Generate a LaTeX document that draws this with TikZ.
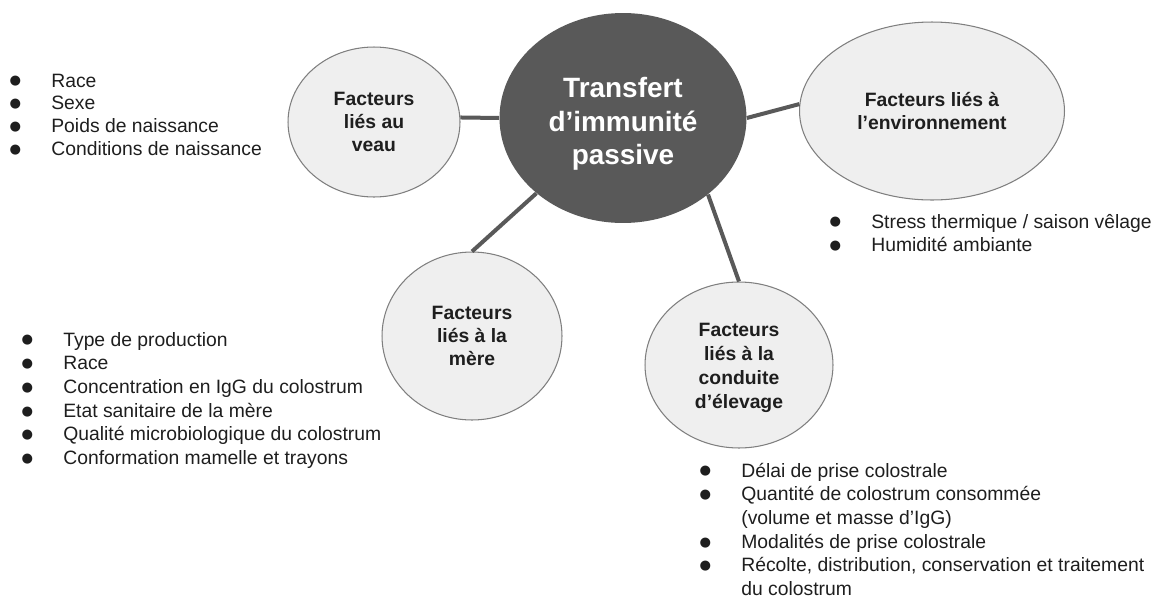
\documentclass[tikz,border=0pt]{standalone}
\usepackage{fontspec}
\setmainfont{Liberation Sans}
\newfontfamily\symbole{DejaVu Sans}
\usetikzlibrary{shapes.geometric}

\definecolor{grisfonce}{HTML}{595959}
\definecolor{grisclair}{HTML}{EFEFEF}
\definecolor{grisbord}{HTML}{7F7F7F}
\definecolor{encre}{HTML}{1E1E1E}

% 列表圆点
\newcommand{\puce}{\makebox[0pt][c]{\raisebox{1.2pt}{\symbole\fontsize{7.5pt}{8pt}\selectfont ●}}\hspace{0.72cm}}
\newcommand{\suite}{\hspace{0.72cm}}

\begin{document}
\begin{tikzpicture}[x=0.02cm, y=-0.02cm,  % 坐标按像素给出
    facteur/.style={ellipse, draw=grisbord, line width=0.6pt, fill=grisclair, inner sep=0pt,
        align=center, text=encre, font={\bfseries\fontsize{11pt}{13.3pt}\selectfont}},
    noyau/.style={ellipse, fill=grisfonce, inner sep=0pt, align=center, text=white,
        font={\bfseries\fontsize{15.9pt}{19.1pt}\selectfont}},
    lien/.style={draw=grisfonce, line width=0.08cm},
    liste/.style={anchor=base west, inner sep=0pt, text=encre,
        font={\fontsize{11pt}{13.5pt}\selectfont}}]

    % 固定画布大小
    \useasboundingbox (0,0) rectangle (1160,599);

    % 中心椭圆
    \node[noyau, minimum width=4.94cm, minimum height=4.2cm] (tip) at (623,118) {\rule{0pt}{18.5pt}Transfert\\d’immunité\\passive};

    % 四个因素椭圆
    \node[facteur, minimum width=3.44cm, minimum height=3cm] (veau) at (374,122) {Facteurs\\liés au\\veau};
    \node[facteur, minimum width=5.3cm, minimum height=3.56cm] (env) at (932,111) {Facteurs liés à\\l’environnement};
    \node[facteur, minimum width=3.6cm, minimum height=3.36cm] (mere) at (472,336) {Facteurs\\liés à la\\mère};
    \node[facteur, minimum width=3.76cm, minimum height=3.32cm, font={\bfseries\fontsize{11pt}{13.6pt}\selectfont}] (elevage) at (739,365) {\rule{0pt}{11pt}Facteurs\\liés à la\\conduite\\d’élevage};

    % 连线
    \draw[lien] (tip.180) -- (veau.3);
    \draw[lien] (tip.221) -- (mere.north);
    \draw[lien] (tip.318) -- (elevage.north);
    \draw[lien] (tip.east) -- (env.177);

    % 各因素的列表
    \node[liste, font={\fontsize{11pt}{13pt}\selectfont}] (lveau) at (15,87) {\begin{tabular}[t]{@{}l@{}}
        \puce Race\\
        \puce Sexe\\
        \puce Poids de naissance\\
        \puce Conditions de naissance
    \end{tabular}};
    \node[liste] (lenv) at (835,228) {\begin{tabular}[t]{@{}l@{}}
        \puce Stress thermique / saison vêlage\\
        \puce Humidité ambiante
    \end{tabular}};
    \node[liste] (lmere) at (27,346) {\begin{tabular}[t]{@{}l@{}}
        \puce Type de production\\
        \puce Race\\
        \puce Concentration en IgG du colostrum\\
        \puce Etat sanitaire de la mère\\
        \puce Qualité microbiologique du colostrum\\
        \puce Conformation mamelle et trayons
    \end{tabular}};
    \node[liste] (lelevage) at (705,477) {\begin{tabular}[t]{@{}l@{}}
        \puce Délai de prise colostrale\\
        \puce Quantité de colostrum consommée\\
        \suite (volume et masse d’IgG)\\
        \puce Modalités de prise colostrale\\
        \puce Récolte, distribution, conservation et traitement\\
        \suite du colostrum
    \end{tabular}};

\end{tikzpicture}
\end{document}
